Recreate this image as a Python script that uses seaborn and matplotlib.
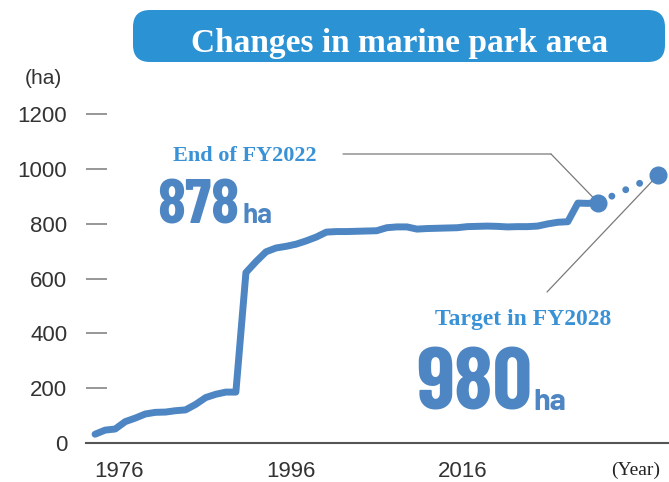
#%% Packages
import matplotlib
matplotlib.use("Agg")
import matplotlib.pyplot as plt
from matplotlib.patches import FancyBboxPatch
from matplotlib.transforms import IdentityTransform
import pandas as pd
import seaborn as sns

#%% Data
years = list(range(1972, 2023))
area = [31, 46, 50, 77, 90, 105, 111, 112, 117, 120,
        140, 165, 177, 185, 185, 622,
        662, 698, 712, 718, 726, 738, 752, 770, 772, 772,
        773, 774, 775, 786, 789, 789, 781, 783, 784, 785,
        786, 790, 791, 792, 791, 789, 790, 790, 792, 800,
        806, 808, 876, 875, 878]
target_year = 2028
target_area = 980
y_ticks = [0, 200, 400, 600, 800, 1000, 1200]
x_tick_labels = ["1976", "1996", "2016"]
x_tick_pos = [1974.4, 1991.5, 2008.5]  # where the labels sit in the original

#%% Style
sns.set_theme(style="white")
plt.rcParams["font.family"] = ["Liberation Sans", "DejaVu Sans"]

LINE = "#4d86c2"
BOX = "#2b92d4"
TEXT_BLUE = "#3a92d6"
GREY = "#333333"
NARROW = ["Barlow Condensed", "DejaVu Sans"]
UNIT = ["Barlow", "DejaVu Sans"]
SERIF = ["Liberation Serif", "DejaVu Serif"]

W, H = 669, 482
fig = plt.figure(figsize=(W / 100, H / 100), dpi=100)
fig.patch.set_facecolor("white")
ax = fig.add_axes([86 / W, 39.3 / H, 583 / W, 342.7 / H])

#%% Main line
df = pd.DataFrame({"year": years, "area": area})
sns.lineplot(data=df, x="year", y="area", ax=ax, color=LINE, lw=5,
             solid_capstyle="round", solid_joinstyle="round")

# dotted projection to the target
proj_x = [years[-1], target_year]
proj_y = [area[-1], target_area]
ax.plot(proj_x, proj_y, color=LINE, lw=5, linestyle=(0, (0.001, 2.2)),
        dash_capstyle="round", clip_on=False)
ax.plot(proj_x, proj_y, "o", color=LINE, ms=12, clip_on=False, zorder=5)

#%% Axes
ax.set_xlim(1971.1, 2029.06)
ax.set_ylim(0, 1253)
ax.set_yticks(y_ticks)
ax.set_xticks(x_tick_pos)
ax.set_xticklabels(x_tick_labels)
ax.set_xlabel("")
ax.set_ylabel("")
for s in ["left", "top", "right"]:
    ax.spines[s].set_visible(False)
ax.spines["bottom"].set_color("#555555")
ax.spines["bottom"].set_linewidth(1.5)
ax.tick_params(axis="y", direction="in", length=15, width=1.3, color="#8f8f8f",
               pad=13.5, labelsize=16, labelcolor=GREY, left=True)
ax.tick_params(axis="x", length=0, pad=13, labelsize=16, labelcolor=GREY)
ax.set_facecolor("white")

#%% Title box
box = FancyBboxPatch((133, H - 62), 532, 52, boxstyle="round,pad=0,rounding_size=17",
                     transform=IdentityTransform(), facecolor=BOX, edgecolor="none")
fig.add_artist(box)
fig.text(400 / W, (H - 51.7) / H, "Changes in marine park area", family=SERIF,
         weight="bold", size=24, color="white", ha="center", va="baseline")

fig.text(43 / W, 1 - 78 / H, "(ha)", size=15, color=GREY, ha="center", va="center")
fig.text(636 / W, (H - 475) / H, "(Year)", family=SERIF, size=14, color="#222222",
         ha="center", va="baseline")

#%% Annotations
fig.text(245 / W, (H - 161) / H, "End of FY2022", family=SERIF, weight="bold",
         size=16, color=TEXT_BLUE, ha="center", va="baseline")
fig.text(157 / W, (H - 223) / H, "878", family=NARROW, weight="bold", size=46,
         color=LINE, ha="left", va="baseline")
fig.text(242 / W, (H - 223) / H, "ha", family=UNIT, weight="bold", size=20,
         color=LINE, ha="left", va="baseline")

fig.text(523 / W, (H - 325) / H, "Target in FY2028", family=SERIF, weight="bold",
         size=17, color=TEXT_BLUE, ha="center", va="baseline")
fig.text(416 / W, (H - 410) / H, "980", family=NARROW, weight="bold", size=63,
         color=LINE, ha="left", va="baseline")
fig.text(533 / W, (H - 410) / H, "ha", family=UNIT, weight="bold", size=22,
         color=LINE, ha="left", va="baseline")

lead = dict(arrowstyle="-", color="#7a7a7a", lw=0.9, shrinkA=0, shrinkB=0)
ax.annotate("", xy=(551, H - 154), xycoords="figure pixels",
            xytext=(343, H - 154), textcoords="figure pixels", arrowprops=lead)
ax.annotate("", xy=(years[-1], area[-1]), xycoords="data",
            xytext=(551, H - 154), textcoords="figure pixels", arrowprops=lead)
ax.annotate("", xy=(target_year, target_area), xycoords="data",
            xytext=(547, H - 292), textcoords="figure pixels", arrowprops=lead,
            annotation_clip=False)

fig.savefig("out.png", dpi=100)
